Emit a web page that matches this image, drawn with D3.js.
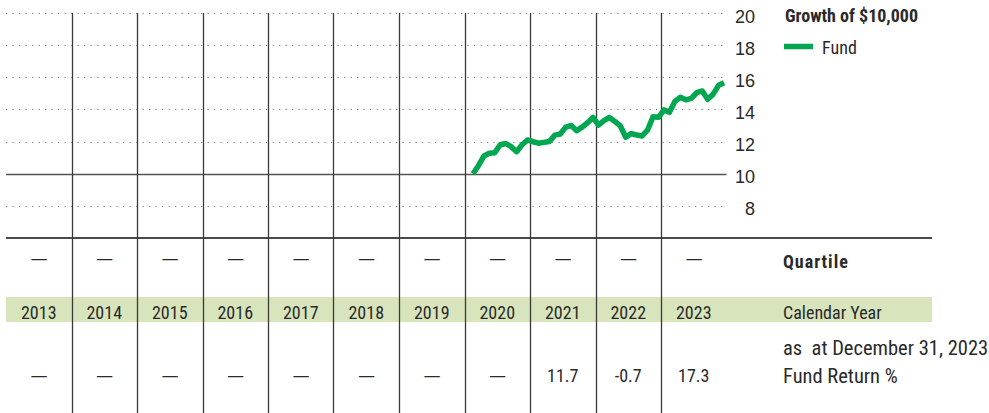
<!DOCTYPE html>
<html>
<head>
<meta charset="utf-8">
<script src="https://cdn.jsdelivr.net/npm/d3@7"></script>
<style>
	body { margin: 0; background: #fff; }
	svg { display: block; font-family: "Liberation Sans Narrow", "Roboto Condensed", "Arial Narrow", "DejaVu Sans Condensed", sans-serif; }
	text { fill: #2a2a2a; font-size: 18px; }
	.grid { stroke: #8a8a8a; stroke-width: 1.2; stroke-dasharray: 1.3 5.2; }
	.col-line { stroke: #3a3a3a; stroke-width: 1.3; }
	.fund { fill: none; stroke: #00a650; stroke-width: 5.5; stroke-linejoin: round; }
	.bold { font-weight: bold; }
	.big { font-size: 20.5px; }
</style>
</head>
<body>
<svg width="989" height="413"></svg>
<script>
const years = [2013, 2014, 2015, 2016, 2017, 2018, 2019, 2020, 2021, 2022, 2023];
const quartiles = ['—', '—', '—', '—', '—', '—', '—', '—', '—', '—', '—'];
const fundReturns = ['—', '—', '—', '—', '—', '—', '—', '—', '11.7', '-0.7', '17.3'];
const yTicks = [8, 10, 12, 14, 16, 18, 20];

// month-end growth of $10,000 (in $000s), Feb 2020 -> Dec 2023
const startMonth = { year: 2020, month: 2 };
const fundGrowth = [
	10.0, 10.5, 11.1, 11.27, 11.31, 11.8, 11.88, 11.68, 11.37, 11.8, 12.1, 11.99,
	11.9, 11.95, 12.0, 12.4, 12.47, 12.9, 13.0, 12.68, 12.9, 13.17, 13.5, 13.03,
	13.3, 13.5, 13.25, 12.97, 12.27, 12.5, 12.41, 12.35, 12.72, 13.55, 13.51, 13.97,
	13.82, 14.5, 14.76, 14.6, 14.69, 15.04, 15.15, 14.63, 14.95, 15.5, 15.66
];

const svg = d3.select('svg');

const left = 6;
const right = 726.5;
const tableRight = 932;
const legendX = 785;
const labelX = 783;

const x = d3.scaleLinear()
	.domain([years[0], years[years.length - 1] + 1])
	.range([left, right]);

const band = d3.scaleBand()
	.domain(years)
	.range([left, right]);

const y = d3.scaleLinear()
	.domain([6, 20])
	.range([238, 13]);

// calendar year band
svg.append('rect')
	.attr('x', left)
	.attr('y', 297)
	.attr('width', tableRight - left)
	.attr('height', 25)
	.attr('fill', '#d8e4bc');

// dotted gridlines
svg.selectAll('.grid')
	.data(yTicks)
	.enter()
	.append('line')
	.attr('class', 'grid')
	.attr('x1', left)
	.attr('x2', right)
	.attr('y1', (d) => Math.round(y(d)) + 0.5)
	.attr('y2', (d) => Math.round(y(d)) + 0.5);

// baseline at 10
svg.append('line')
	.attr('x1', left)
	.attr('x2', right)
	.attr('y1', Math.round(y(10)) + 0.5)
	.attr('y2', Math.round(y(10)) + 0.5)
	.attr('stroke', '#555')
	.attr('stroke-width', 1.3);

// bottom of chart
svg.append('line')
	.attr('x1', left)
	.attr('x2', tableRight)
	.attr('y1', y(6))
	.attr('y2', y(6))
	.attr('stroke', '#4a4a4a')
	.attr('stroke-width', 2);

// column dividers
svg.selectAll('.col-line')
	.data(years.slice(1))
	.enter()
	.append('line')
	.attr('class', 'col-line')
	.attr('x1', (d) => Math.round(x(d)) + 0.5)
	.attr('x2', (d) => Math.round(x(d)) + 0.5)
	.attr('y1', y(20))
	.attr('y2', 413);

// y tick labels
const axis = d3.axisRight(y)
	.tickValues(yTicks)
	.tickSize(0)
	.tickPadding(0);

const axisG = svg.append('g')
	.attr('transform', `translate(755, 0)`)
	.call(axis);

axisG.select('.domain').remove();
axisG.selectAll('text')
	.attr('text-anchor', 'end')
	.attr('dy', '0.5em')
	.attr('font-family', null)
	.attr('font-size', null)
	.attr('fill', '#2a2a2a')
	.style('font-size', '18px');

// fund line
const line = d3.line()
	.x((d, i) => x(startMonth.year + (startMonth.month - 1 + i + 0.55) / 12))
	.y((d) => y(d));

svg.append('path')
	.datum(fundGrowth)
	.attr('class', 'fund')
	.attr('d', line);

// legend
svg.append('text')
	.attr('class', 'bold')
	.attr('x', legendX)
	.attr('y', 22)
	.text('Growth of $10,000');

svg.append('line')
	.attr('x1', legendX - 1)
	.attr('x2', legendX + 28)
	.attr('y1', 46.5)
	.attr('y2', 46.5)
	.attr('stroke', '#00a650')
	.attr('stroke-width', 5.5);

svg.append('text')
	.attr('x', 822)
	.attr('y', 54)
	.text('Fund');

// table rows
const cx = (d) => band(d) + band.bandwidth() / 2;

svg.selectAll('.quartile')
	.data(years)
	.enter()
	.append('text')
	.attr('class', 'quartile')
	.attr('x', cx)
	.attr('y', 266)
	.attr('text-anchor', 'middle')
	.attr('textLength', 19)
	.attr('lengthAdjust', 'spacingAndGlyphs')
	.text((d, i) => quartiles[i]);

svg.selectAll('.year')
	.data(years)
	.enter()
	.append('text')
	.attr('class', 'year')
	.attr('x', cx)
	.attr('y', 319)
	.attr('text-anchor', 'middle')
	.text((d) => d);

svg.selectAll('.return')
	.data(years)
	.enter()
	.append('text')
	.attr('class', 'return')
	.attr('x', cx)
	.attr('y', 382)
	.attr('text-anchor', 'middle')
	.each(function (d, i) {
		const el = d3.select(this).text(fundReturns[i]);
		if (fundReturns[i] === '—') {
			el.attr('textLength', 19).attr('lengthAdjust', 'spacingAndGlyphs').attr('y', 383);
		}
	});

// row labels
svg.append('text')
	.attr('class', 'bold')
	.attr('x', labelX)
	.attr('y', 268)
	.attr('letter-spacing', 1)
	.text('Quartile');

svg.append('text')
	.attr('x', labelX)
	.attr('y', 319)
	.text('Calendar Year');

svg.append('text')
	.attr('class', 'big')
	.attr('x', labelX)
	.attr('y', 355)
	.attr('xml:space', 'preserve')
	.text('as  at December 31, 2023');

svg.append('text')
	.attr('class', 'big')
	.attr('x', labelX)
	.attr('y', 383)
	.text('Fund Return %');
</script>
</body>
</html>
